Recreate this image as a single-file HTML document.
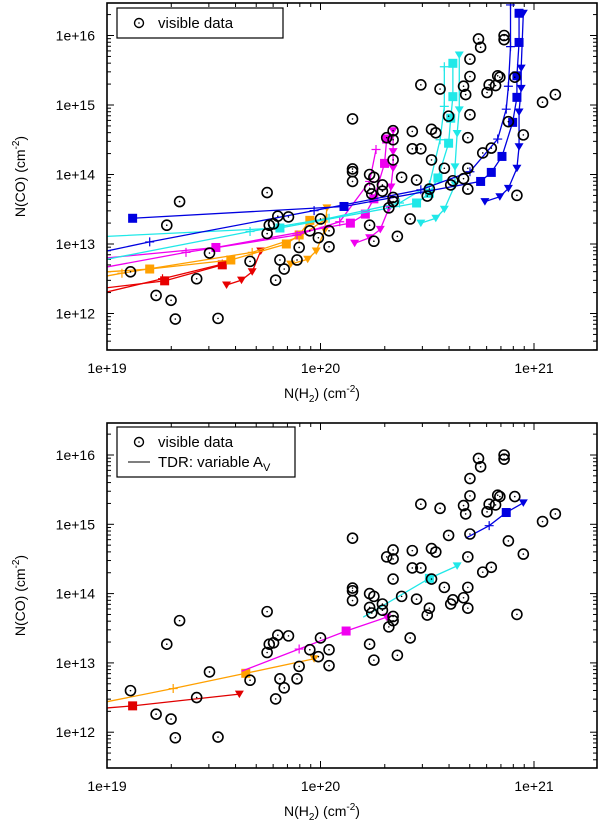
<!DOCTYPE html>
<html><head><meta charset="utf-8"><style>
html,body{margin:0;padding:0;background:#fff}
svg{display:block;font-family:"Liberation Sans",sans-serif}
</style></head><body>
<svg id="chart" width="600" height="826" viewBox="0 0 600 826" xmlns="http://www.w3.org/2000/svg"></svg>
<script>
// Observed data: log10 N(H2), log10 N(CO)
const obsLogH2 = [20.74,20.75,20.86,20.86,20.70,20.70,20.83,20.84,20.91,20.47,20.56,20.67,20.79,20.82,20.78,20.68,21.04,21.10,20.15,20.60,20.70,20.88,20.95,20.69,20.43,20.52,20.54,20.31,20.34,20.34,20.43,20.47,20.76,20.80,20.34,20.52,20.58,20.69,20.15,20.15,20.15,20.23,20.25,20.38,20.45,20.67,20.62,20.61,20.69,20.51,20.23,20.29,20.29,19.75,20.92,19.34,20.24,20.50,20.34,20.34,20.32,20.42,20.23,20.25,20.36,19.28,19.80,19.85,20.00,19.78,19.76,19.75,19.95,20.04,19.99,20.04,19.90,19.48,19.67,19.81,19.89,19.83,19.79,19.11,19.42,19.23,19.30,19.32,19.52];
const obsLogCO = [15.95,15.83,16.00,15.94,15.66,15.41,15.42,15.40,15.40,15.29,15.23,15.27,15.29,15.28,15.18,15.15,15.04,15.15,14.80,14.84,14.86,14.76,14.57,14.53,14.62,14.65,14.60,14.53,14.63,14.50,14.37,14.37,14.31,14.38,14.21,14.21,14.09,14.09,14.08,14.04,13.90,14.00,13.96,13.96,13.92,13.94,13.91,13.85,13.79,13.79,13.80,13.85,13.76,13.74,13.70,13.61,13.72,13.69,13.67,13.61,13.52,13.36,13.27,13.04,13.11,13.27,13.40,13.39,13.36,13.29,13.27,13.15,13.19,13.19,13.09,12.96,12.95,12.87,12.75,12.77,12.77,12.64,12.48,12.60,12.50,12.26,12.19,11.92,11.93];

// Top-panel model tracks
const seriesNames = ['red-plus','red-square','red-tri','orange-plus','orange-square','orange-tri','magenta-plus','magenta-square','magenta-tri','cyan-plus','cyan-square','cyan-tri','blue-plus','blue-square','blue-tri'];
const seriesColors = ['#e80000','#e80000','#e80000','#ffa000','#ffa000','#ffa000','#f000f0','#f000f0','#f000f0','#20e8e8','#20e8e8','#20e8e8','#0000e0','#0000e0','#0000e0'];
const seriesMarkers = ['plus','square','tri','plus','square','tri','plus','square','tri','plus','square','tri','plus','square','tri'];
const seriesX = [
 [19.00,19.26,19.54],
 [19.00,19.27,19.54],
 [19.56,19.63,19.68,19.72],
 [19.00,19.07,19.68,19.90,20.03],
 [19.00,19.20,19.58,19.84,19.90,19.95],
 [19.86,19.94,19.98,20.02,20.03],
 [19.00,19.37,19.89,20.09,20.23,20.26],
 [19.00,19.51,20.14,20.21,20.25,20.30,20.31],
 [20.16,20.23,20.28,20.32,20.33,20.34,20.34,20.34],
 [19.00,19.67,20.04,20.37,20.51,20.56,20.58,20.58],
 [19.00,19.81,20.45,20.51,20.55,20.60,20.61,20.62,20.62],
 [20.47,20.54,20.58,20.63,20.63,20.64,20.65,20.65],
 [19.00,19.20,19.97,20.47,20.70,20.83,20.87,20.88,20.89,20.89],
 [19.12,20.11,20.75,20.80,20.85,20.90,20.92,20.92,20.93,20.93],
 [20.77,20.84,20.88,20.92,20.93,20.93,20.94,20.94,20.95]
];
const seriesY = [
 [12.31,12.50,12.71],
 [12.37,12.47,12.70],
 [12.41,12.48,12.60,12.90],
 [12.54,12.58,12.88,13.10,13.37],
 [12.60,12.64,12.77,13.00,13.13,13.34],
 [12.71,12.78,12.90,13.20,13.52],
 [12.67,12.88,13.13,13.32,13.90,14.36],
 [12.80,12.95,13.30,13.43,13.65,14.16,14.51],
 [13.01,13.09,13.21,13.51,13.82,14.09,14.33,14.63],
 [12.78,13.18,13.37,13.59,13.85,14.50,14.98,15.55],
 [13.11,13.23,13.59,13.73,13.95,14.45,14.81,15.12,15.60],
 [13.30,13.37,13.50,13.85,14.11,14.59,14.93,15.72],
 [12.90,13.03,13.48,13.78,14.04,14.51,14.94,15.27,15.84,16.44],
 [13.37,13.54,13.90,14.03,14.26,14.75,15.11,15.42,15.90,16.32],
 [13.61,13.68,13.80,14.09,14.40,14.90,15.24,15.53,16.32]
];

// Bottom-panel variable-Av tracks
const avNames = ['red','orange','magenta','cyan','blue'];
const avColors = ['#e00000','#ffa000','#f000f0','#20e8e8','#0000e0'];
const avX = [[19.00,19.12,19.62],[19.00,19.31,19.65,19.97],[19.63,19.90,20.12,20.31],[20.20,20.51,20.64],[20.68,20.79,20.87,20.95]];
const avY = [[12.35,12.38,12.55],[12.44,12.63,12.85,13.06],[12.88,13.20,13.46,13.66],[13.66,14.22,14.40],[14.80,14.98,15.17,15.31]];
const avMarkers = [['none','square','tri'],['none','plus','square','tri'],['none','plus','square','tri'],['none','square','tri'],['none','plus','square','tri']];

const xTickLabels = ['1e+19','1e+20','1e+21'];
const yTickLabels = ['1e+12','1e+13','1e+14','1e+15','1e+16'];

const NS='http://www.w3.org/2000/svg';
const svg=document.getElementById('chart');
function mk(tag,attrs,parent){const e=document.createElementNS(NS,tag);for(const k in attrs)e.setAttribute(k,attrs[k]);(parent||svg).appendChild(e);return e;}

const X0=107,X1=597,LX0=19,LX1=19+490/213.5;
function xs(v){return X0+(v-LX0)/(LX1-LX0)*(X1-X0);}

function panel(name,top,bottom,y16,dec){
  const LY1=16+(y16-top)/dec, LY0=16-(bottom-y16)/dec;
  const ys=v=>bottom-(v-LY0)/(LY1-LY0)*(bottom-top);
  const g=mk('g',{});
  
  
  // ticks
  for(let d=19;d<=21;d++){for(let m=1;m<10;m++){const v=d+Math.log10(m);if(v>LX1)break;const x=xs(v);const L=m===1?7:4;
    mk('line',{x1:x,x2:x,y1:bottom,y2:bottom-L,stroke:'#000','stroke-width':1},g);
    mk('line',{x1:x,x2:x,y1:top,y2:top+L,stroke:'#000','stroke-width':1},g);}}
  for(let d=11;d<=16;d++){for(let m=1;m<10;m++){const v=d+Math.log10(m);if(v<LY0||v>LY1)continue;const y=ys(v);const L=m===1?7:4;
    mk('line',{x1:X0,x2:X0+L,y1:y,y2:y,stroke:'#000','stroke-width':1},g);
    mk('line',{x1:X1,x2:X1-L,y1:y,y2:y,stroke:'#000','stroke-width':1},g);}}
  xTickLabels.forEach((t,i)=>{const el=mk('text',{x:xs(19+i),y:bottom+23,'text-anchor':'middle','font-size':14},g);el.textContent=t;
    
    });
  yTickLabels.forEach((t,i)=>{const el=mk('text',{x:95,y:ys(12+i)+5,'text-anchor':'end','font-size':14},g);el.textContent=t;
    
    });
  const xt=mk('text',{x:322,y:bottom+48,'text-anchor':'middle','font-size':14},g);
  xt.innerHTML='N(H<tspan font-size="10" dy="4">2</tspan><tspan dy="-4">) (cm</tspan><tspan font-size="10" dy="-6">-2</tspan><tspan dy="6">)</tspan>';
  
  
  const cy=(top+bottom)/2;
  const yt=mk('text',{x:0,y:0,'text-anchor':'middle','font-size':14,transform:`translate(25,${cy}) rotate(-90)`},g);
  yt.innerHTML='N(CO) (cm<tspan font-size="10" dy="-6">-2</tspan><tspan dy="6">)</tspan>';
  
  
  return {g,ys,top,bottom};
}

function marker(g,type,x,y,color){
  let e=null;
  if(type==='square')e=mk('rect',{x:x-4.5,y:y-4.5,width:9,height:9,fill:color},g);
  else if(type==='tri')e=mk('path',{d:`M${x-4.5},${y-3.5}L${x+4.5},${y-3.5}L${x},${y+4}Z`,fill:color},g);
  else if(type==='plus')e=mk('path',{d:`M${x-4.5},${y}H${x+4.5}M${x},${y-4.5}V${y+4.5}`,stroke:color,'stroke-width':1.2,fill:'none'},g);
  if(e){
    }
}

function observed(p){
  const cg=mk('g',{},p.g);
  
  
  obsLogH2.forEach((v,i)=>{const x=xs(v),y=p.ys(obsLogCO[i]);
    const c=mk('circle',{cx:x,cy:y,r:5,fill:'none',stroke:'#000','stroke-width':1.6},cg);
    
    
    mk('circle',{cx:x,cy:y,r:0.8,fill:'#000'},cg);});
}

function frame(p,w){
  const r=mk('rect',{x:X0,y:p.top,width:X1-X0,height:p.bottom-p.top,fill:'none',stroke:'#000','stroke-width':1.6},p.g);
  
  
}

// clip paths
mk('clipPath',{id:'c1'}).appendChild(document.createElementNS(NS,'rect'));
const c1=svg.lastChild.firstChild;c1.setAttribute('x',X0);c1.setAttribute('y',3);c1.setAttribute('width',X1-X0);c1.setAttribute('height',347);
mk('clipPath',{id:'c2'}).appendChild(document.createElementNS(NS,'rect'));
const c2=svg.lastChild.firstChild;c2.setAttribute('x',X0);c2.setAttribute('y',423);c2.setAttribute('width',X1-X0);c2.setAttribute('height',345);

// TOP PANEL
const p1=panel('top-panel',3,350,35.5,69.5);
const s1=mk('g',{'clip-path':'url(#c1)'},p1.g);
seriesNames.forEach((n,i)=>{
  const sg=mk('g',{},s1);
  
  
  const pts=seriesX[i].map((v,j)=>[xs(v),p1.ys(seriesY[i][j])]);
  mk('polyline',{points:pts.map(q=>q.join(',')).join(' '),fill:'none',stroke:seriesColors[i],'stroke-width':1.3},sg);
  pts.forEach((q,j)=>{if(j>0||seriesX[i][j]>19.05)marker(sg,seriesMarkers[i],q[0],q[1],seriesColors[i]);});
});
observed(p1);
frame(p1);
// legend top
const lg1=mk('g',{},p1.g);


mk('rect',{x:117,y:8,width:166,height:30,fill:'#fff',stroke:'#000','stroke-width':1.2},lg1);
mk('circle',{cx:139,cy:23,r:4.5,fill:'none',stroke:'#000','stroke-width':1.4},lg1);
mk('circle',{cx:139,cy:23,r:0.8,fill:'#000'},lg1);
const lt1=mk('text',{x:158,y:28,'font-size':15},lg1);lt1.textContent='visible data';



// BOTTOM PANEL
const p2=panel('bottom-panel',423,768,455,69.3);
const s2=mk('g',{'clip-path':'url(#c2)'},p2.g);
avNames.forEach((n,i)=>{
  const sg=mk('g',{},s2);
  
  
  const pts=avX[i].map((v,j)=>[xs(v),p2.ys(avY[i][j])]);
  mk('polyline',{points:pts.map(q=>q.join(',')).join(' '),fill:'none',stroke:avColors[i],'stroke-width':1.3},sg);
  pts.forEach((q,j)=>marker(sg,avMarkers[i][j],q[0],q[1],avColors[i]));
});
observed(p2);
frame(p2);
const lg2=mk('g',{},p2.g);


mk('rect',{x:117,y:427,width:178,height:50,fill:'#fff',stroke:'#000','stroke-width':1.2},lg2);
mk('circle',{cx:139,cy:442,r:4.5,fill:'none',stroke:'#000','stroke-width':1.4},lg2);
mk('circle',{cx:139,cy:442,r:0.8,fill:'#000'},lg2);
const lt2=mk('text',{x:158,y:447,'font-size':15},lg2);lt2.textContent='visible data';


mk('line',{x1:128,x2:150,y1:462,y2:462,stroke:'#333','stroke-width':1.3},lg2);
const lt3=mk('text',{x:158,y:467,'font-size':15},lg2);
lt3.innerHTML='TDR: variable A<tspan font-size="11" dy="4">V</tspan>';


</script>
</body></html>
